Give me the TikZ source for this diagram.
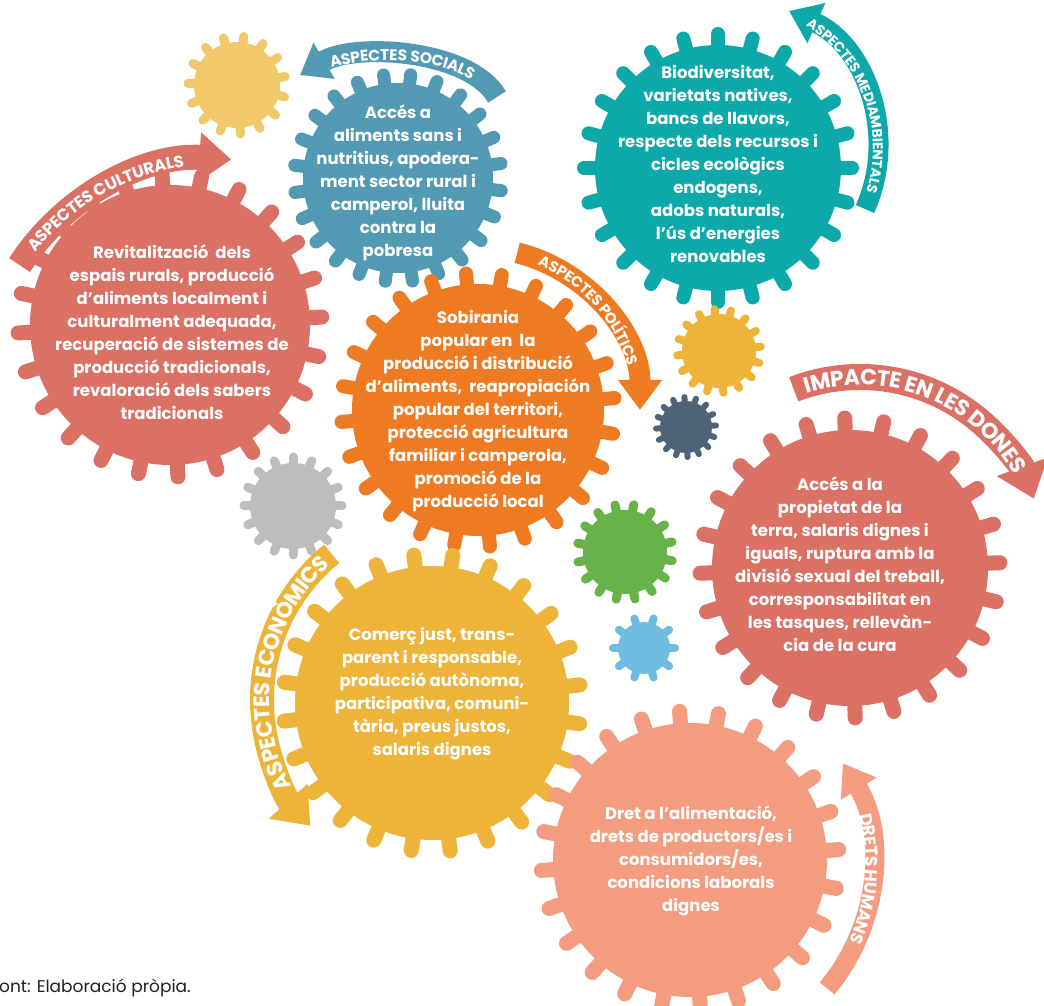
\documentclass[tikz,border=0pt]{standalone}
\usepackage{fontspec}
\setmainfont{Poppins}
\usetikzlibrary{arrows.meta,decorations.text}
\definecolor{cred}{HTML}{DB7064}
\definecolor{cblue}{HTML}{529AB4}
\definecolor{cteal}{HTML}{0DA8A9}
\definecolor{corange}{HTML}{EE7A22}
\definecolor{cyellow}{HTML}{EEB43A}
\definecolor{csalmon}{HTML}{F49C80}
\definecolor{clyellow}{HTML}{F2C96A}
\definecolor{cgray}{HTML}{BDBDBD}
\definecolor{cslate}{HTML}{4E6378}
\definecolor{cgreen}{HTML}{67B34A}
\definecolor{clblue}{HTML}{6EBDE0}
\definecolor{cfoot}{HTML}{231F20}
% name, x, y, r, n, knob width, knob length, colour, phase
\newcommand{\mygear}[9]{%
  \foreach \k in {1,...,#5}{%
    \draw[#8, line width=#6pt, line cap=round]
      ([shift={({#9+360*\k/#5}:{#4-2})}]#2,#3) -- ([shift={({#9+360*\k/#5}:{#4-2+#7})}]#2,#3);
  }%
  \node[circle, fill=#8, minimum size={2*#4pt}, inner sep=0pt] (#1) at (#2,#3) {};
}
\tikzset{
  ctext/.style={align=center, text=white, font=\bfseries\fontsize{16.5}{23}\selectfont, inner sep=0pt},
  bandtext/.style 2 args={decorate, decoration={text along path, text align=center,
     raise=#1, text color=white, text={#2}}},
}
\begin{document}
\begin{tikzpicture}[x=1pt,y=1pt]
\useasboundingbox (0,0) rectangle (1044,1006);
\fill[white] (0,0) rectangle (1044,1006);

% gears
\mygear{gL}{170}{681}{140}{24}{15}{14}{cred}{3}
\mygear{gS}{398}{828}{95}{24}{13}{11}{cblue}{8}
\mygear{gM}{718}{838}{123}{24}{14}{13}{cteal}{0}
\mygear{gP}{478}{596}{126}{24}{14}{13}{corange}{5}
\mygear{gD}{850}{438}{138}{24}{15}{14}{cred}{2}
\mygear{gE}{432}{303}{137}{24}{15}{14}{cyellow}{7}
\mygear{gH}{690}{146}{137}{24}{15}{14}{csalmon}{4}
\mygear{s1}{237}{921}{43}{15}{9}{8}{clyellow}{10}
\mygear{s2}{293}{500}{43}{16}{9}{8}{cgray}{0}
\mygear{s3}{719}{655}{37}{16}{8}{7}{cyellow}{6}
\mygear{s4}{686}{579}{26}{16}{6}{6}{cslate}{3}
\mygear{s5}{625}{454}{42}{16}{9}{8}{cgreen}{12}
\mygear{s6}{644}{358}{26}{10}{8}{7}{clblue}{0}

% bands
\draw[cred, line width=25pt, -{Triangle[width=48pt,length=32pt]}]
  ([shift={(147:233)}]215,614) arc[start angle=147, end angle=86, radius=233];
\draw[cblue, line width=21pt, -{Triangle[width=40pt,length=28pt]}]
  (497,909) .. controls (470,956) and (356,964) .. (300,931);
\draw[cteal, line width=20pt, -{Triangle[width=42pt,length=30pt]}]
  ([shift={(-24:150)}]728,858) arc[start angle=-24, end angle=66, radius=150];
\draw[corange, line width=21pt, -{Triangle[width=42pt,length=30pt]}]
  ([shift={(76:162)}]478,596) arc[start angle=76, end angle=0, radius=162];
\draw[cred, line width=26pt, -{Triangle[width=52pt,length=34pt]}]
  ([shift={(111:185)}]860,444) arc[start angle=111, end angle=20, radius=185];
\draw[cyellow, line width=24pt, -{Triangle[width=50pt,length=33pt]}]
  ([shift={(129:188)}]450,306) arc[start angle=129, end angle=222, radius=188];
\draw[csalmon, line width=19pt, -{Triangle[width=40pt,length=30pt]}]
  ([shift={(-40:192)}]680,141) arc[start angle=-40, end angle=32, radius=192];

% band texts
\path[bandtext={-5.9pt}{|\bfseries\fontsize{16.5}{16.5}\selectfont|ASPECTES CULTURALS}]
  ([shift={(165:233)}]215,614) arc[start angle=165, end angle=75, radius=233];
\path[bandtext={-5.5pt}{|\bfseries\fontsize{15.5}{15.5}\selectfont|ASPECTES SOCIALS}]
  (300,931) .. controls (356,964) and (470,956) .. (497,909);
\path[bandtext={-5pt}{|\bfseries\fontsize{14}{14}\selectfont|ASPECTES MEDIAMBIENTALS}]
  ([shift={(75:150)}]728,858) arc[start angle=75, end angle=-35, radius=150];
\path[bandtext={-5.4pt}{|\bfseries\fontsize{15}{15}\selectfont|ASPECTES POLÍTICS}]
  ([shift={(80:162)}]478,596) arc[start angle=80, end angle=4, radius=162];
\path[bandtext={-7.8pt}{|\bfseries\fontsize{22}{22}\selectfont|IMPACTE EN LES DONES}]
  ([shift={(120:185)}]860,444) arc[start angle=120, end angle=17, radius=185];
\path[bandtext={-7.8pt}{|\bfseries\fontsize{22}{22}\selectfont|ASPECTES ECONÒMICS}]
  ([shift={(222:188)}]450,306) arc[start angle=222, end angle=118, radius=188];
\path[bandtext={-6.1pt}{|\bfseries\fontsize{17}{17}\selectfont|DRETS HUMANS}]
  ([shift={(30:192)}]680,141) arc[start angle=30, end angle=-38.7, radius=192];

% gear texts
\node[ctext] (tL) at (172,673.5) {Revitalització\ \ dels\\espais rurals, producció\\d'aliments localment i\\culturalment adequada,\\recuperació de sistemes de\\producció tradicionals,\\revaloració dels sabers\\tradicionals};
\node[ctext] (tS) at (398,823.5) {Accés a\\aliments sans i\\nutritius, apodera-\\ment sector rural i\\camperol, lluita\\contra la\\pobresa};
\node[ctext] (tM) at (718,842.5) {Biodiversitat,\\varietats natives,\\bancs de llavors,\\respecte dels recursos i\\cicles ecològics\\endogens,\\adobs naturals,\\l'ús d'energies\\renovables};
\node[ctext] (tP) at (478,594.5) {Sobirania\\popular en\ \ la\\producció i distribució\\d'aliments,\ \ reapropiación\\popular del territori,\\protecció agricultura\\familiar i camperola,\\promoció de la\\producció local};
\node[ctext] (tD) at (840,442) {Accés a la\\propietat de la\\terra, salaris dignes i\\iguals, ruptura amb la\\divisió sexual del treball,\\corresponsabilitat en\\les tasques, rellevàn-\\cia de la cura};
\node[ctext] (tE) at (432,312.5) {Comerç just, trans-\\parent i responsable,\\producció autònoma,\\participativa, comuni-\\tària, preus justos,\\salaris dignes};
\node[ctext] (tH) at (691,145) {Dret a l'alimentació,\\drets de productors/es i\\consumidors/es,\\condicions laborals\\dignes};

\node[anchor=base west, font=\fontsize{17}{20}\selectfont, text=cfoot, inner sep=0pt] (src) at (-1,13) {ont: Elaboració pròpia.};
\end{tikzpicture}
\end{document}
